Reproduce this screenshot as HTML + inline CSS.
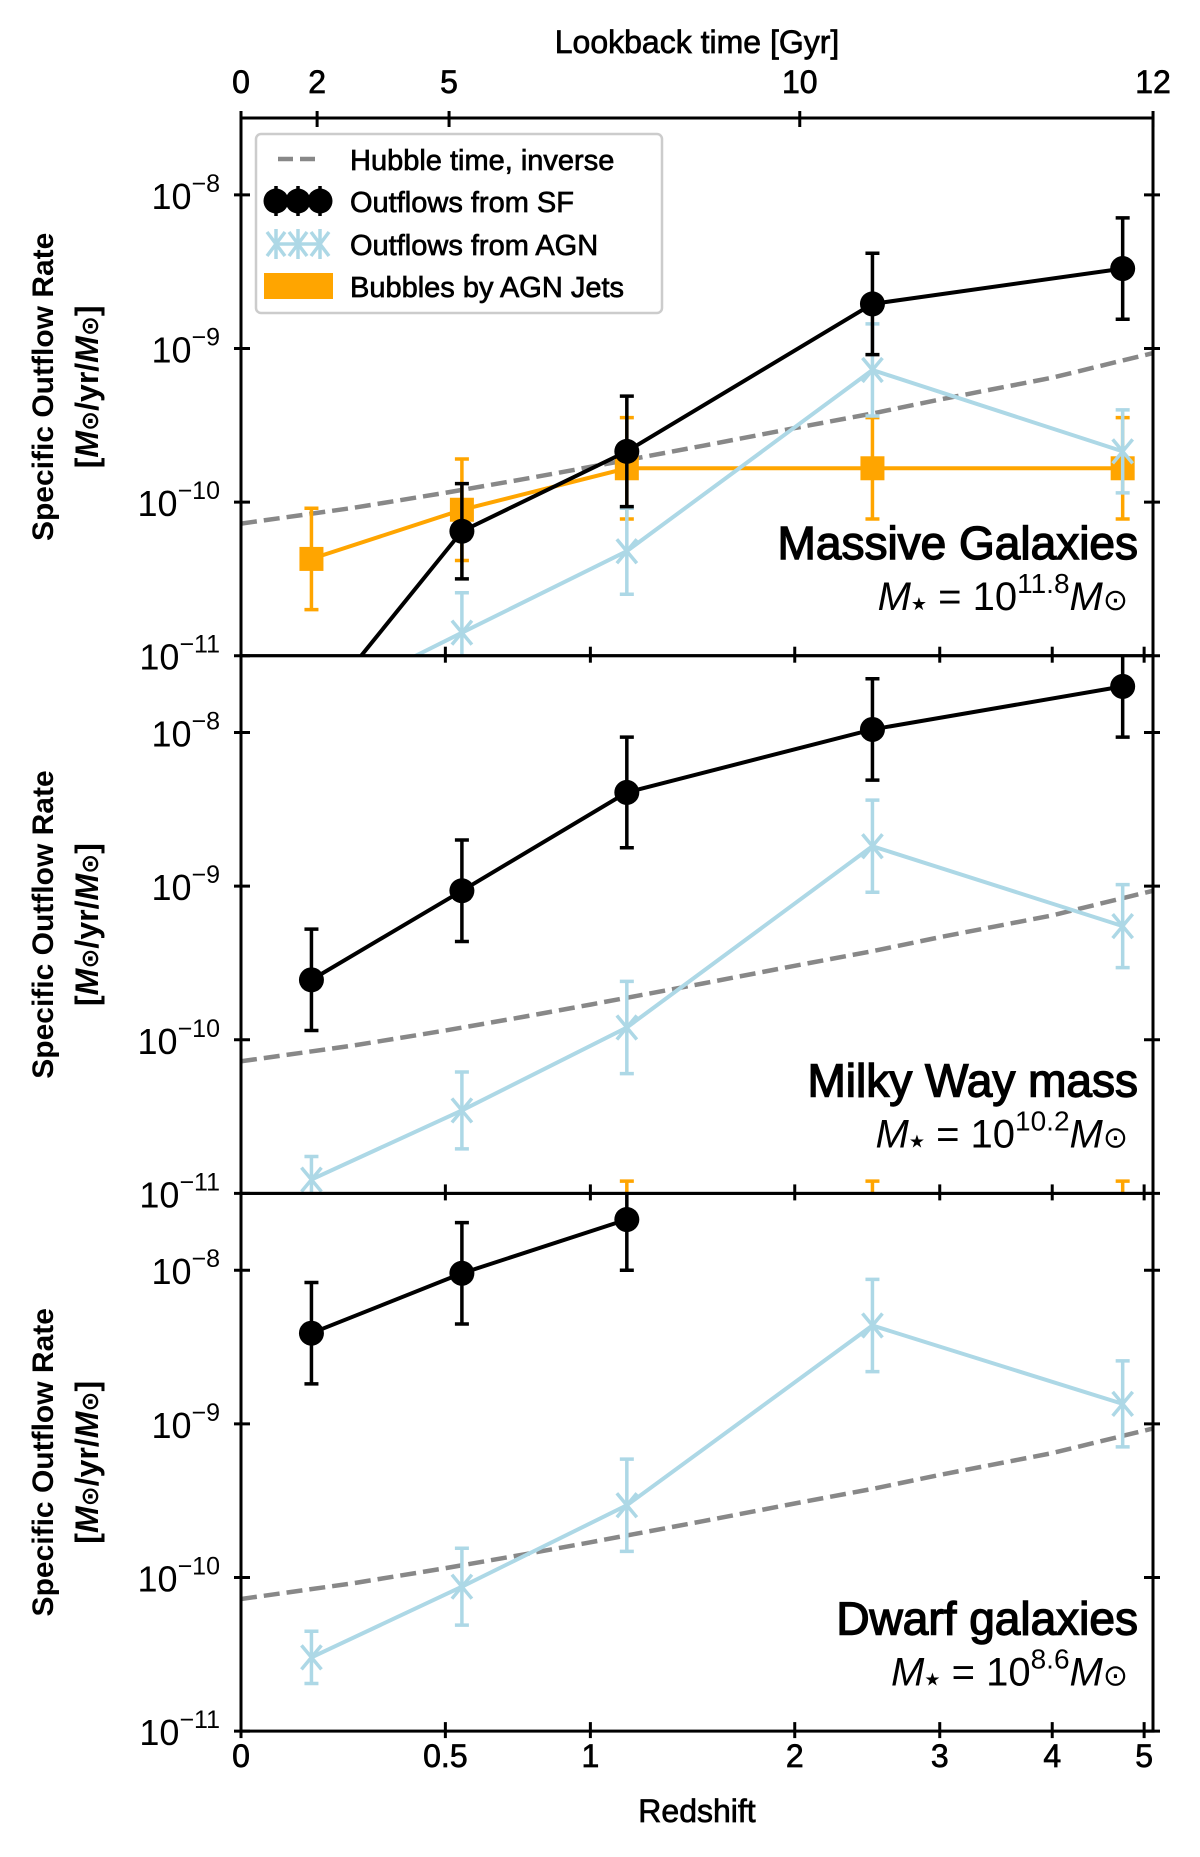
<!DOCTYPE html>
<html><head><meta charset="utf-8"><style>
html,body{margin:0;padding:0;background:#fff;overflow:hidden;}
svg{display:block;}
svg text{font-family:"Liberation Sans","DejaVu Sans",sans-serif;}
.med{stroke:#000;stroke-width:0.7px;}
</style></head><body>
<svg id="chart" width="1200" height="1857" viewBox="0 0 1200 1857" xmlns="http://www.w3.org/2000/svg">
<defs>
<clipPath id="c0"><rect x="241" y="118" width="912" height="538"/></clipPath>
<clipPath id="c1"><rect x="241" y="656" width="912" height="538"/></clipPath>
<clipPath id="c2"><rect x="241" y="1193" width="912" height="538"/></clipPath>
</defs>
<g id="layer"></g>
</svg>
<script>
// ---- data ----
const redshifts = [0.15, 0.55, 1.15, 2.5, 4.75];
const hubbleZ = [0, 0.25, 0.5, 0.75, 1, 1.5, 2, 2.5, 3, 4, 5.11];
const hubbleAgeGyr = [13.8, 10.9, 8.7, 7.1, 5.9, 4.3, 3.3, 2.65, 2.15, 1.55, 1.07];
const panelNames = ["Massive Galaxies", "Milky Way mass", "Dwarf galaxies"];
const panelMassExp = ["11.8", "10.2", "8.6"];
const sfLog = [[-11.4, -10.19, -9.67, -8.71, -8.48], [-9.61, -9.03, -8.39, -7.98, -7.70], [-8.41, -8.02, -7.67, null, null]];
const sfErr = [[0.33, 0.31, 0.36, 0.33, 0.33], [0.33, 0.33, 0.36, 0.33, 0.33], [0.33, 0.33, 0.33, 0.33, 0.33]];
const agnLog = [[-11.34, -10.85, -10.32, -9.14, -9.67], [-10.91, -10.46, -9.92, -8.74, -9.26], [-10.52, -10.06, -9.53, -8.36, -8.87]];
const agnErr = [[0.26, 0.26, 0.28, 0.3, 0.27], [0.15, 0.25, 0.3, 0.3, 0.27], [0.17, 0.25, 0.3, 0.3, 0.28]];
const jetLog = [[-10.37, -10.05, -9.78, -9.78, -9.78], [-12, -12, -11.25, -11.25, -11.25], [-13, -13, -13, -13, -13]];
const jetErr = [[0.33, 0.33, 0.33, 0.33, 0.33], [0.33, 0.33, 0.33, 0.33, 0.33], [0.33, 0.33, 0.33, 0.33, 0.33]];
const yTicks = [-11, -10, -9, -8];
const xTickVals = [0, 0.5, 1, 2, 3, 4, 5];
const xTickLabels = ["0", "0.5", "1", "2", "3", "4", "5"];
const topTickZ = [0, 0.163, 0.511, 2.03, 5.107];
const topTickLabels = ["0", "2", "5", "10", "12"];

// ---- geometry ----
const L = 241, R = 1153, T = 118, PH = 537.7, YMIN = -11, YMAX = -7.5;
const XU = 1160.6;
const NS = "http://www.w3.org/2000/svg";
const layer = document.getElementById('layer');
function xS(z){ return L + Math.log10(1 + z) * XU; }
function yS(p, lv){ const top = T + p * PH; return top + (YMAX - lv) / (YMAX - YMIN) * PH; }
function el(tag, attrs, parent){ const e = document.createElementNS(NS, tag); for (const k in attrs) e.setAttribute(k, attrs[k]); (parent || layer).appendChild(e); return e; }

function series(p, vals, errs, color, marker, name){
  const g = el('g', {'clip-path': 'url(#c' + p + ')'});
  
  
  let d = '';
  vals.forEach((v, i) => { if (v === null) return; d += (d ? 'L' : 'M') + xS(redshifts[i]).toFixed(1) + ',' + yS(p, v).toFixed(1); });
  const ln = el('path', {d: d, fill: 'none', stroke: color, 'stroke-width': 4}, g);
  
  
  vals.forEach((v, i) => {
    if (v === null) return;
    const x = xS(redshifts[i]), y = yS(p, v), y1 = yS(p, v + errs[i]), y2 = yS(p, v - errs[i]);
    const eb = el('path', {d: `M${x},${y1}L${x},${y2}M${x-7},${y1}L${x+7},${y1}M${x-7},${y2}L${x+7},${y2}`, stroke: color, 'stroke-width': 3.5, fill: 'none'}, g);
    
    
    let m;
    if (marker === 'o') m = el('circle', {cx: x, cy: y, r: 12.5, fill: color}, g);
    else if (marker === 's') m = el('rect', {x: x - 12, y: y - 12, width: 24, height: 24, fill: color}, g);
    else m = el('path', {d: `M${x-10},${y-12}L${x+10},${y+12}M${x-10},${y+12}L${x+10},${y-12}`, stroke: color, 'stroke-width': 3.5, fill: 'none'}, g);
    
    
  });
}

for (let p = 0; p < 3; p++){
  const top = T + p * PH, bot = top + PH;
  const hg = el('g', {'clip-path': 'url(#c' + p + ')'});
  let d = '';
  hubbleZ.forEach((z, i) => { const lv = Math.log10(1 / (hubbleAgeGyr[i] * 1e9)); d += (i ? 'L' : 'M') + xS(z).toFixed(1) + ',' + yS(p, lv).toFixed(1); });
  const hl = el('path', {d: d, fill: 'none', stroke: '#888', 'stroke-width': 4.5, 'stroke-dasharray': '16,7'}, hg);
  
  
  series(p, jetLog[p], jetErr[p], '#ffa500', 's', 'agn-jets');
  series(p, agnLog[p], agnErr[p], '#add8e6', 'x', 'agn-outflows');
  series(p, sfLog[p], sfErr[p], '#000', 'o', 'sf-outflows');
  const fr = el('rect', {x: L, y: top, width: R - L, height: PH, fill: 'none', stroke: '#000', 'stroke-width': 3});
  
  
  yTicks.forEach(t => {
    const y = yS(p, t);
    el('path', {d: `M${L-7},${y}L${L+9},${y}M${R-9},${y}L${R+7},${y}`, stroke: '#000', 'stroke-width': 3});
    const tx = el('text', {x: 220, y: y + 14, 'text-anchor': 'end', 'font-size': 36});
    
    
    tx.innerHTML = '10<tspan dy="-17" font-size="25">\u2212' + (-t) + '</tspan>';
  });
  xTickVals.forEach(z => { const x = xS(z); el('path', {d: `M${x},${bot-9}L${x},${bot+7}`, stroke: '#000', 'stroke-width': 3}); });
  const cy = top + PH / 2;
  const yt = el('text', {x: 0, y: 0, transform: `translate(53,${cy}) rotate(-90)`, 'text-anchor': 'middle', 'font-size': 30, 'font-weight': 'bold'});
  
  
  yt.textContent = 'Specific Outflow Rate';
  const yt2 = el('text', {x: 0, y: 0, transform: `translate(98,${cy}) rotate(-90)`, 'text-anchor': 'middle', 'font-size': 32, 'font-weight': 'bold'});
  
  
  yt2.innerHTML = '[<tspan font-style="italic">M</tspan><tspan font-size="24">\u2299</tspan>/yr/<tspan font-style="italic">M</tspan><tspan font-size="24">\u2299</tspan>]';
  const pl = el('text', {x: 1138, y: top + 441, 'text-anchor': 'end', 'font-size': 46, 'class': 'med', 'style': 'stroke-width:1.4px'});
  
  
  pl.textContent = panelNames[p];
  const ml = el('text', {x: 1128, y: top + 492, 'text-anchor': 'end', 'font-size': 40});
  
  
  ml.innerHTML = '<tspan font-style="italic">M</tspan><tspan font-size="18">\u2605</tspan> = 10<tspan dy="-17" font-size="28">' + panelMassExp[p] + '</tspan><tspan dy="17" font-style="italic">M</tspan><tspan font-size="30">\u2299</tspan>';
}
xTickVals.forEach((z, i) => {
  const t = el('text', {x: xS(z), y: 1767, 'text-anchor': 'middle', 'font-size': 32, 'class': 'med'});
  
  
  t.textContent = xTickLabels[i];
});
const xt = el('text', {x: 697, y: 1822, 'text-anchor': 'middle', 'font-size': 32, 'class': 'med'});


xt.textContent = 'Redshift';
topTickZ.forEach((z, i) => {
  const x = xS(z);
  el('path', {d: `M${x},${T-7}L${x},${T+9}`, stroke: '#000', 'stroke-width': 3});
  const t = el('text', {x: x, y: 93, 'text-anchor': 'middle', 'font-size': 32, 'class': 'med'});
  
  
  t.textContent = topTickLabels[i];
});
const tt = el('text', {x: 697, y: 53, 'text-anchor': 'middle', 'font-size': 32, 'class': 'med'});


tt.textContent = 'Lookback time [Gyr]';
const lg = el('g', {});


el('rect', {x: 256, y: 134, width: 406, height: 179, rx: 5, fill: 'rgba(255,255,255,0.85)', stroke: '#ccc', 'stroke-width': 2.5}, lg);
const legY = [159, 201, 244, 286];
const legT = ['Hubble time, inverse', 'Outflows from SF', 'Outflows from AGN', 'Bubbles by AGN Jets'];
el('path', {d: 'M278,159L322,159', stroke: '#888', 'stroke-width': 4.5, 'stroke-dasharray': '15,7'}, lg);
[276, 298, 320].forEach(x => {
  el('circle', {cx: x, cy: 201, r: 12.5, fill: '#000'}, lg);
  el('path', {d: `M${x},${201-15}L${x},${201+15}`, stroke: '#000', 'stroke-width': 3.5}, lg);
  el('path', {d: `M${x-9},${244-12}L${x+9},${244+12}M${x-9},${244+12}L${x+9},${244-12}M${x},${244-15}L${x},${244+15}`, stroke: '#add8e6', 'stroke-width': 3.5}, lg);
});
el('path', {d: 'M276,244L320,244', stroke: '#add8e6', 'stroke-width': 3.5}, lg);
el('rect', {x: 264, y: 273, width: 69, height: 26, fill: '#ffa500'}, lg);
legT.forEach((s, i) => {
  const t = el('text', {x: 350, y: legY[i] + 11, 'font-size': 29, 'class': 'med'}, lg);
  
  
  t.textContent = s;
});
</script>
</body></html>
